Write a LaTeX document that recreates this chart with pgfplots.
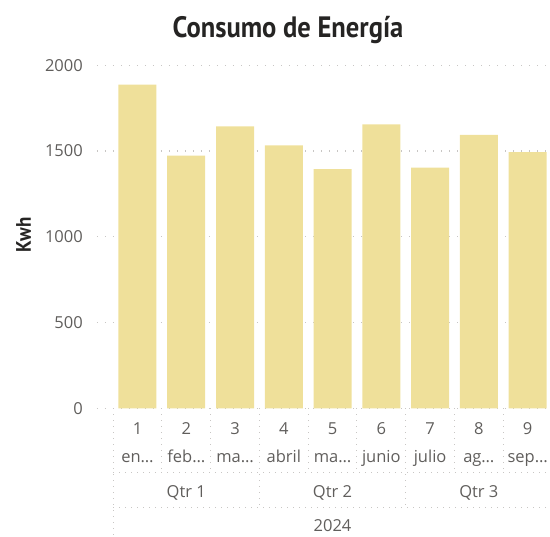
\documentclass[border=0pt]{standalone}
\usepackage{pgfplots}
\pgfplotsset{compat=1.18}
\usepackage{fontspec}
\setmainfont{Open Sans}
\newfontfamily\titlefont[FakeStretch=0.9]{PT Sans}
\definecolor{barc}{HTML}{EFE09A}
\definecolor{tickc}{HTML}{605E5C}
\definecolor{titc}{HTML}{252423}
\definecolor{gridc}{HTML}{C8C6C4}
\pgfplotstableread{
x y
1 1887
2 1473
3 1644
4 1533
5 1394
6 1656
7 1403
8 1595
9 1494
}\datatable
\tikzset{lbl/.style={font=\fontsize{16.5}{18}\selectfont, text=tickc, inner sep=0pt, anchor=base},
  sep/.style={gridc, line width=1pt, dash pattern=on 1pt off 5pt}}
\begin{document}
\begin{tikzpicture}[x=1pt,y=1pt]
\path[use as bounding box] (0,0) rectangle (550,-537);
\node[font=\titlefont\bfseries\fontsize{29.5}{31}\selectfont, text=titc, anchor=base] at (288,-38) {Consumo de Energía};
\node[font=\titlefont\bfseries\fontsize{21}{23}\selectfont, text=titc, rotate=90] at (23.5,-235) {Kwh};
\begin{axis}[
  at={(97pt,-408.3pt)}, anchor=south west,
  scale only axis, width=455pt, height=343pt,
  xmin=0.17, xmax=9.5, ymin=0, ymax=2000,
  axis line style={draw=none},
  ytick={0,500,1000,1500,2000},
  ymajorgrids,
  grid style={gridc, line width=1.2pt, dash pattern=on 1.2pt off 6.8pt},
  major tick length=0pt,
  /pgf/number format/assume math mode=true,
  /pgf/number format/set thousands separator={},
  yticklabel style={font=\fontsize{16.5}{18}\selectfont, text=tickc, inner sep=0pt, anchor=east, xshift=-14pt},
  xtick={1,...,9},
  xticklabels={1,2,3,4,5,6,7,8,9},
  xticklabel style={font=\fontsize{16.5}{18}\selectfont, text=tickc, inner sep=0pt, anchor=base, yshift=-26pt},
  ybar, bar width=38pt,
  clip=false,
]
\addplot[fill=barc, draw=none] table[x=x,y=y] {\datatable};
\pgfplotsinvokeforeach{1.5,2.5,4.5,5.5,7.5,8.5}{
  \draw[sep] (axis cs:#1,0) -- ([yshift=-64pt]axis cs:#1,0);
}
\pgfplotsinvokeforeach{3.5,6.5}{
  \draw[sep] (axis cs:#1,0) -- ([yshift=-99pt]axis cs:#1,0);
}
\draw[sep] (axis cs:0.5,0) -- ([yshift=-129pt]axis cs:0.5,0);
\draw[sep] ([yshift=-64pt]axis cs:0.5,0) -- ([yshift=-64pt]axis cs:9.5,0);
\draw[sep] ([yshift=-99pt]axis cs:0.5,0) -- ([yshift=-99pt]axis cs:9.5,0);
\foreach \i/\m in {1/en…,2/feb…,3/ma…,4/abril,5/ma…,6/junio,7/julio,8/ag…,9/sep…}{
  \edef\temp{\noexpand\node[lbl] at ([yshift=-54pt]axis cs:\i,0) {\m};}\temp
}
\foreach \i/\q in {2/Qtr 1,5/Qtr 2,8/Qtr 3}{
  \edef\temp{\noexpand\node[lbl] at ([yshift=-89pt]axis cs:\i,0) {\q};}\temp
}
\node[lbl] at ([yshift=-123pt]axis cs:5,0) {2024};
\end{axis}
\end{tikzpicture}
\end{document}
